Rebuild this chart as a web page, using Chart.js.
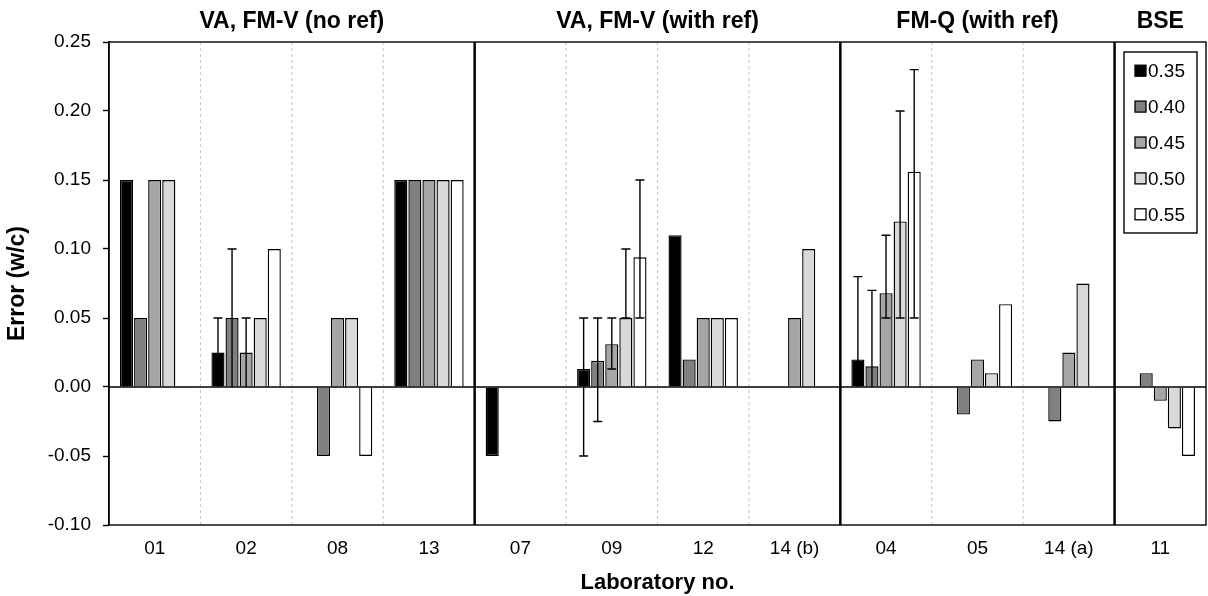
<!DOCTYPE html>
<html><head><meta charset="utf-8">
<script src="https://cdn.jsdelivr.net/npm/chart.js@4"></script>
<style>html,body{margin:0;padding:0;background:#fff}#wrap{width:1208px;height:596px}</style>
</head><body><div id="wrap"><canvas id="c"></canvas></div>
<script>
const categories = ['01','02','08','13','07','09','12','14 (b)','04','05','14 (a)','11'];
const groupNames = ['VA, FM-V (no ref)','VA, FM-V (with ref)','FM-Q (with ref)','BSE'];
const groupSizes = [4,4,3,1];
const seriesLabels = ['0.35','0.40','0.45','0.50','0.55'];
const seriesColors = ['#000000','#808080','#a6a6a6','#d9d9d9','#ffffff'];
const wc035 = [0.15, 0.025, null, 0.15, -0.05, 0.013, 0.11, null, 0.02, null, null, null];
const wc040 = [0.05, 0.05, -0.05, 0.15, null, 0.019, 0.02, null, 0.015, -0.02, -0.025, 0.01];
const wc045 = [0.15, 0.025, 0.05, 0.15, null, 0.031, 0.05, 0.05, 0.068, 0.02, 0.025, -0.01];
const wc050 = [0.15, 0.05, 0.05, 0.15, null, 0.05, 0.05, 0.10, 0.12, 0.01, 0.075, -0.03];
const wc055 = [null, 0.10, -0.05, 0.15, null, 0.094, 0.05, null, 0.156, 0.06, null, -0.05];
const errLow035  = [null, 0, null, null, null, -0.05, null, null, 0, null, null, null];
const errHigh035 = [null, 0.05, null, null, null, 0.05, null, null, 0.08, null, null, null];
const errLow040  = [null, 0, null, null, null, -0.025, null, null, 0, null, null, null];
const errHigh040 = [null, 0.10, null, null, null, 0.05, null, null, 0.07, null, null, null];
const errLow045  = [null, 0, null, null, null, 0.013, null, null, 0.05, null, null, null];
const errHigh045 = [null, 0.05, null, null, null, 0.05, null, null, 0.11, null, null, null];
const errLow050  = [null, null, null, null, null, 0.05, null, null, 0.05, null, null, null];
const errHigh050 = [null, null, null, null, null, 0.10, null, null, 0.20, null, null, null];
const errLow055  = [null, null, null, null, null, 0.05, null, null, 0.05, null, null, null];
const errHigh055 = [null, null, null, null, null, 0.15, null, null, 0.23, null, null, null];
const yTicks = [-0.10,-0.05,0.00,0.05,0.10,0.15,0.20,0.25];

const seriesValues = [wc035, wc040, wc045, wc050, wc055];
const errLows = [errLow035, errLow040, errLow045, errLow050, errLow055];
const errHighs = [errHigh035, errHigh040, errHigh045, errHigh050, errHigh055];

const FONT = "'Liberation Sans', Arial, sans-serif";

const framePlugin = {
  id: 'frame',
  beforeDatasetsDraw(chart) {
    const {ctx, chartArea: a, scales: {x}} = chart;
    ctx.save();
    let boundaries = [];
    let acc = 0;
    groupSizes.forEach(s => { acc += s; boundaries.push(acc); });
    for (let i = 1; i < categories.length; i++) {
      const px = (x.getPixelForValue(i - 1) + x.getPixelForValue(i)) / 2;
      if (boundaries.includes(i)) {
        ctx.strokeStyle = '#000'; ctx.lineWidth = 2.5; ctx.setLineDash([]);
      } else {
        ctx.strokeStyle = '#c4c4c4'; ctx.lineWidth = 1; ctx.setLineDash([3, 3]);
      }
      ctx.beginPath(); ctx.moveTo(px, a.top); ctx.lineTo(px, a.bottom); ctx.stroke();
    }
    ctx.restore();
  },
  afterDatasetsDraw(chart) {
    const {ctx, chartArea: a, scales: {x, y}} = chart;
    ctx.save();
    ctx.strokeStyle = '#000'; ctx.lineWidth = 1.4; ctx.setLineDash([]);
    chart.data.datasets.forEach((ds, di) => {
      const meta = chart.getDatasetMeta(di);
      meta.data.forEach((bar, i) => {
        const lo = errLows[di][i], hi = errHighs[di][i];
        if (lo == null || hi == null) return;
        const bx = bar.x;
        const y1 = y.getPixelForValue(lo), y2 = y.getPixelForValue(hi);
        ctx.beginPath();
        ctx.moveTo(bx, y1); ctx.lineTo(bx, y2);
        ctx.moveTo(bx - 4.5, y2); ctx.lineTo(bx + 4.5, y2);
        if (lo !== 0) { ctx.moveTo(bx - 4.5, y1); ctx.lineTo(bx + 4.5, y1); }
        ctx.stroke();
      });
    });
    const y0 = y.getPixelForValue(0);
    ctx.lineWidth = 1.6;
    ctx.beginPath(); ctx.moveTo(a.left, y0); ctx.lineTo(a.right, y0); ctx.stroke();
    ctx.lineWidth = 1.4;
    ctx.strokeRect(a.left, a.top, a.right - a.left, a.bottom - a.top);
    ctx.fillStyle = '#000';
    ctx.font = "bold 23px " + FONT;
    ctx.textAlign = 'center'; ctx.textBaseline = 'middle';
    const step = x.getPixelForValue(1) - x.getPixelForValue(0);
    let start = 0;
    groupSizes.forEach((s, gi) => {
      const l = x.getPixelForValue(start) - step / 2;
      const r = x.getPixelForValue(start + s - 1) + step / 2;
      ctx.fillText(groupNames[gi], (l + r) / 2, 22);
      start += s;
    });
    const lx = 1124, ly = 52, lw = 73, lh = 181;
    ctx.fillStyle = '#fff';
    ctx.fillRect(lx, ly, lw, lh);
    ctx.lineWidth = 1.4; ctx.strokeStyle = '#000';
    ctx.strokeRect(lx, ly, lw, lh);
    ctx.font = "19px " + FONT;
    ctx.textAlign = 'left';
    chart.data.datasets.forEach((ds, di) => {
      const cy = 70.7 + di * 35.9;
      ctx.fillStyle = ds.backgroundColor;
      ctx.fillRect(1135, cy - 5.5, 11, 11);
      ctx.lineWidth = 1.3;
      ctx.strokeRect(1135, cy - 5.5, 11, 11);
      ctx.fillStyle = '#000';
      ctx.fillText(ds.label, 1148, cy + 1);
    });
    ctx.restore();
  }
};

new Chart(document.getElementById('c'), {
  type: 'bar',
  data: {
    labels: categories,
    datasets: seriesLabels.map((lab, i) => ({
      label: lab,
      data: seriesValues[i],
      backgroundColor: seriesColors[i],
      borderColor: '#000',
      borderWidth: 1.4,
      categoryPercentage: 0.77,
      barPercentage: 0.93
    }))
  },
  options: {
    responsive: true,
    maintainAspectRatio: false,
    animation: false,
    devicePixelRatio: 1,
    layout: { padding: { top: 42, right: 2, bottom: 0, left: 0 } },
    plugins: { legend: { display: false }, tooltip: { enabled: false } },
    scales: {
      x: {
        grid: { display: false },
        border: { display: false },
        ticks: { color: '#000', font: { family: FONT, size: 19 }, padding: 4, maxRotation: 0 },
        title: { display: true, text: 'Laboratory no.', color: '#000', font: { family: FONT, size: 22, weight: 'bold' }, padding: { top: 4, bottom: 0 } },
        afterFit(s) { s.height = 71; }
      },
      y: {
        min: -0.1, max: 0.25,
        afterBuildTicks(s) { s.ticks = yTicks.map(v => ({ value: v })); },
        grid: { drawOnChartArea: false, drawTicks: true, tickLength: 6, tickColor: '#000', tickWidth: 1.4 },
        border: { display: true, color: '#000', width: 1.5 },
        ticks: { color: '#000', font: { family: FONT, size: 19 }, padding: 12, callback: v => Number(v).toFixed(2) },
        title: { display: true, text: 'Error (w/c)', color: '#000', font: { family: FONT, size: 23, weight: 'bold' }, padding: { top: 4, bottom: 4 } },
        afterFit(s) { s.width = 109; }
      }
    }
  },
  plugins: [framePlugin]
});
</script></body></html>
